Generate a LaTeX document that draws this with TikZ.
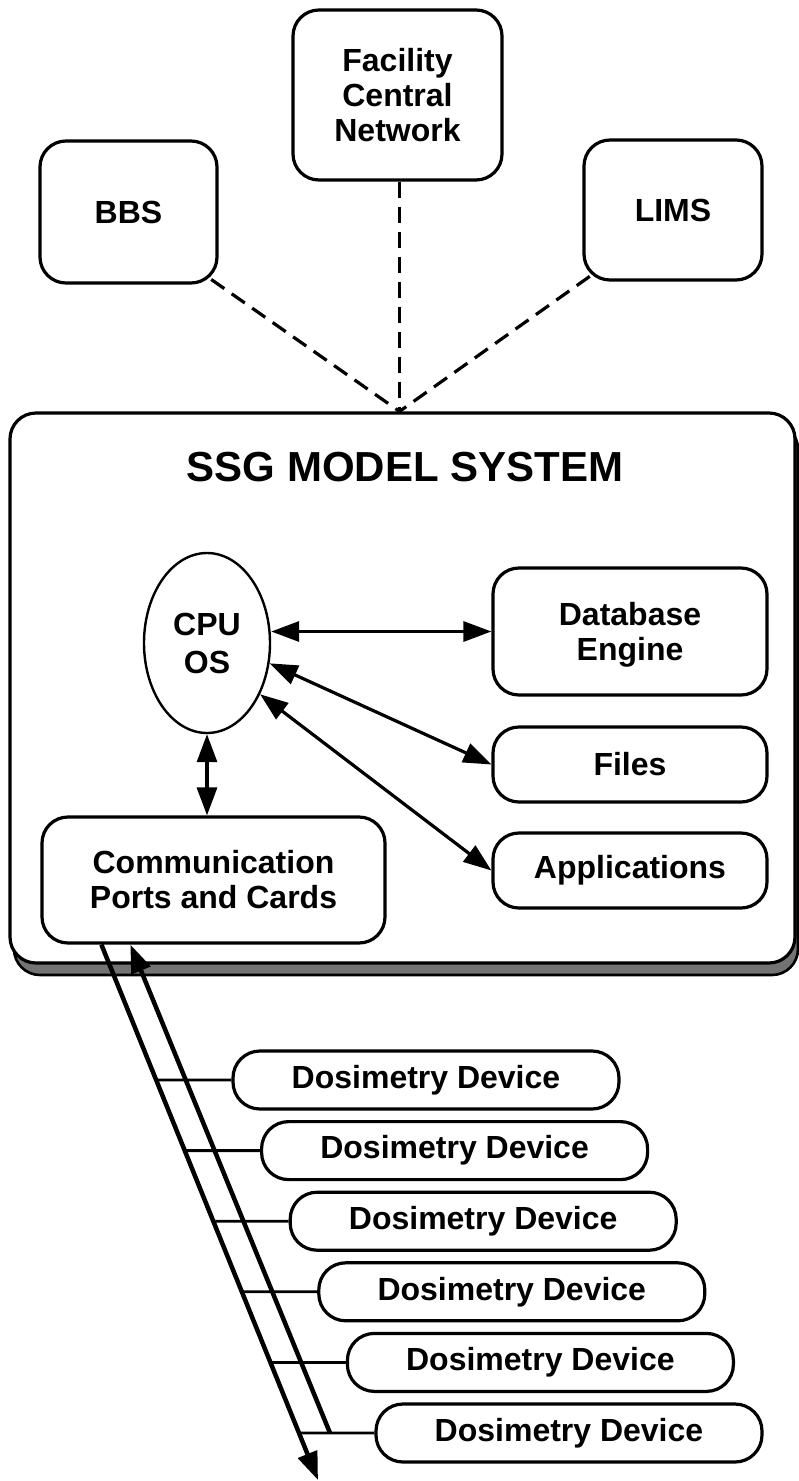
\documentclass[tikz,border=0pt]{standalone}
\usepackage{fontspec}
\setmainfont{Liberation Sans}
\usetikzlibrary{arrows.meta,shapes.geometric,calc}
\begin{document}
\begin{tikzpicture}[x=1pt,y=-1pt,
  every node/.style={font=\fontsize{32}{35}\selectfont\bfseries, align=center, inner sep=0pt},
  rbox/.style={draw, line width=3.2pt, rounded corners=26pt, rectangle, fill=white},
  dev/.style={rbox, minimum width=386pt, minimum height=58pt, rounded corners=27pt},
  dashln/.style={line width=3.2pt, dash pattern=on 16pt off 9pt},
  dbl/.style={line width=3.2pt, {Triangle[length=28pt,width=20pt]}-{Triangle[length=28pt,width=20pt]}},
  busln/.style={line width=4.5pt, -{Triangle[length=28pt,width=20pt]}},
  tap/.style={line width=2.8pt}
]
\useasboundingbox (0,0) rectangle (799,1481);

% outer systems
\node[rbox, minimum width=177pt, minimum height=142pt] (bbs) at (128.5,212) {BBS};
\node[rbox, minimum width=209pt, minimum height=170pt] (fcn) at (397.5,95) {Facility\\Central\\Network};
\node[rbox, minimum width=178pt, minimum height=140pt] (lims) at (673,210) {LIMS};

% SSG model system with shadow
\fill[black!55, rounded corners=26pt] (14,423) rectangle (798,975);
\draw[line width=2.6pt, rounded corners=26pt] (14,423) rectangle (798,975);
\node[rbox, minimum width=785pt, minimum height=550pt] (ssg) at (402.5,688) {};
\node[font=\fontsize{42}{46}\selectfont\bfseries, anchor=base] (title) at (405,481) {SSG MODEL SYSTEM};
\coordinate (J) at ($(ssg.north)+(-3,0)$);

\draw[dashln] ($(bbs.south east)!-9pt!(J)$) -- (J);
\draw[dashln] ($(lims.south west)!-9pt!(J)$) -- (J);
\draw[dashln] (J |- fcn.south) -- (J);

% inner components
\node[draw, ellipse, line width=2.4pt, fill=white, minimum width=126pt, minimum height=180pt] (cpu) at (207,643) {CPU\\[3pt]OS};
\node[rbox, minimum width=274pt, minimum height=127pt, text depth=0pt] (db) at (630,631.5) {Database\\Engine};
\node[rbox, minimum width=274pt, minimum height=75pt] (files) at (630,764.5) {Files};
\node[rbox, minimum width=274pt, minimum height=75pt] (apps) at (630,870.5) {Applications};
\node[rbox, minimum width=343pt, minimum height=126pt] (comm) at (213.5,880) {Communication\\Ports and Cards};

\draw[dbl] (cpu.east |- db.west) -- (db.west);
\draw[dbl] (cpu.-18) -- (files.west);
\draw[dbl] (cpu.-44) -- (apps.west);
\draw[dbl] (cpu.south) -- (cpu.south |- comm.north);

% bus
\coordinate (b1top) at ($(comm.south west)+(61,0)$);
\coordinate (b1end) at (318,1480);
\coordinate (b2top) at ($(comm.south west)+(90,0)$);
\coordinate (b2end) at (330,1433);
\draw[busln] (b1top) -- (b1end);
\draw[busln] (b2end) -- (b2top);

% dosimetry devices
\foreach \i [evaluate=\i as \xx using 426+28.6*(\i-1), evaluate=\i as \yy using 1080+70.6*(\i-1)] in {1,...,6} {
  \node[dev] (d\i) at (\xx,\yy) {Dosimetry Device};
  \draw[tap] (intersection of b1top--b1end and d\i.west--d\i.east) -- (d\i.west);
}
\end{tikzpicture}
\end{document}
